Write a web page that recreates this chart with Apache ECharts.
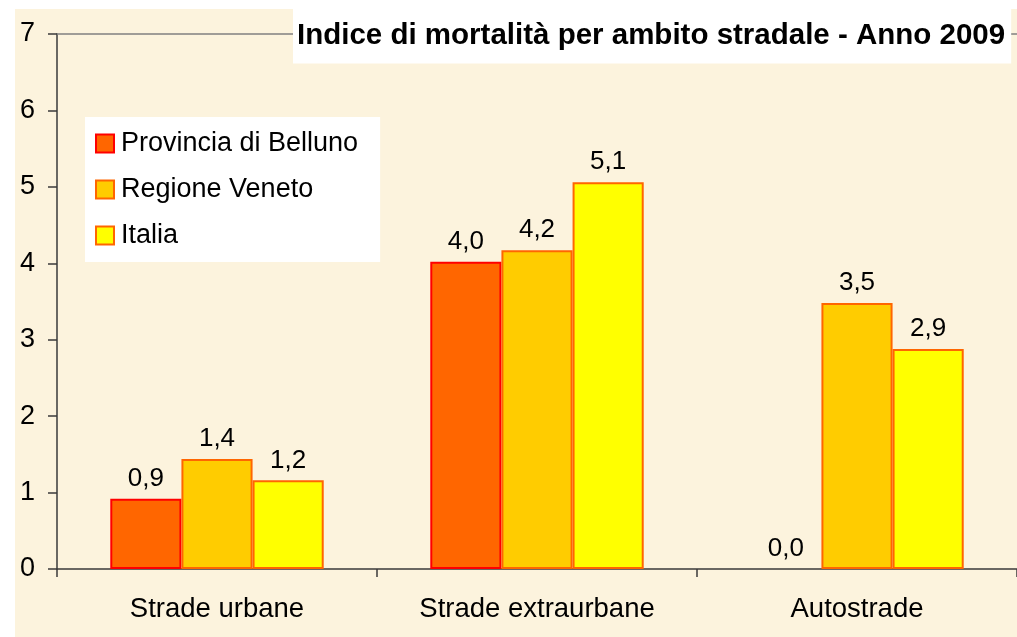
<!DOCTYPE html>
<html>
<head>
<meta charset="utf-8">
<script src="https://cdn.jsdelivr.net/npm/echarts@6/dist/echarts.min.js"></script>
<style>
html,body{margin:0;padding:0;background:#fff;}
#c{width:1017px;height:637px;}
</style>
</head>
<body>
<div id="c"></div>
<script>
const titleText = 'Indice di mortalità per ambito stradale - Anno 2009';
const categories = ['Strade urbane', 'Strade extraurbane', 'Autostrade'];
const seriesNames = ['Provincia di Belluno', 'Regione Veneto', 'Italia'];
const belluno = [0.92, 4.02, 0.0];
const veneto = [1.44, 4.17, 3.48];
const italia = [1.16, 5.06, 2.88];
const yTicks = [0, 1, 2, 3, 4, 5, 6, 7];

const FONT = '"Liberation Sans", Arial, sans-serif';
const fills = ['#FF6600', '#FFCC00', '#FFFF00'];
const borders = ['#FF0000', '#FF6600', '#FF6600'];
const values = [belluno, veneto, italia];

const chart = echarts.init(document.getElementById('c'), null, {renderer: 'canvas'});

const series = seriesNames.map((name, i) => ({
  name: name,
  type: 'bar',
  barGap: '0%',
  barCategoryGap: '33.3%',
  data: values[i].map(v => v === 0 ? {value: v, itemStyle: {borderWidth: 0}} : v),
  itemStyle: {color: fills[i], borderColor: borders[i], borderWidth: 2},
  label: {
    show: true,
    position: 'top',
    distance: 7,
    color: '#000',
    fontFamily: FONT,
    fontSize: 26,
    formatter: p => p.value.toFixed(1).replace('.', ',')
  }
}));

chart.setOption({
  animation: false,
  backgroundColor: '#ffffff',
  graphic: [{
    type: 'rect',
    left: 15, top: 9,
    shape: {width: 1002, height: 628},
    style: {fill: '#FCF3DD'},
    z: -10
  }],
  title: {
    text: titleText,
    left: 293, top: 9,
    backgroundColor: '#ffffff',
    padding: [12, 6, 13, 4],
    textStyle: {fontFamily: FONT, fontSize: 29.5, fontWeight: 'bold', color: '#000', lineHeight: 29}
  },
  legend: {
    orient: 'vertical',
    left: 85, top: 117,
    backgroundColor: '#ffffff',
    padding: [13, 22, 13, 10],
    itemWidth: 18, itemHeight: 18,
    itemGap: 19,
    data: seriesNames.map((n, i) => ({name: n, icon: 'rect', itemStyle: {color: fills[i], borderColor: borders[i], borderWidth: 2}})),
    textStyle: {fontFamily: FONT, fontSize: 27, color: '#000', lineHeight: 26, padding: [0, 0, 0, 2]}
  },
  grid: {left: 57, top: 34, right: -3, bottom: 68, containLabel: false},
  xAxis: [{
    type: 'category',
    data: categories,
    axisLine: {lineStyle: {color: '#3a3a3a', width: 1.5}},
    axisTick: {show: true, length: 8, lineStyle: {color: '#3a3a3a', width: 1.5}},
    axisLabel: {fontFamily: FONT, fontSize: 27.5, color: '#000', margin: 26}
  }, {
    type: 'category',
    position: 'top',
    data: categories,
    axisLine: {lineStyle: {color: '#808080', width: 1.5}},
    axisTick: {show: false},
    axisLabel: {show: false}
  }],
  yAxis: {
    type: 'value',
    min: 0, max: 7, interval: 1,
    axisLine: {show: true, lineStyle: {color: '#3a3a3a', width: 1.5}},
    axisTick: {show: true, length: 9, lineStyle: {color: '#3a3a3a', width: 1.5}},
    splitLine: {show: false},
    axisLabel: {fontFamily: FONT, fontSize: 27, color: '#000', margin: 22,
      formatter: v => yTicks.includes(v) ? String(v) : ''}
  },
  series: series
});
</script>
</body>
</html>
